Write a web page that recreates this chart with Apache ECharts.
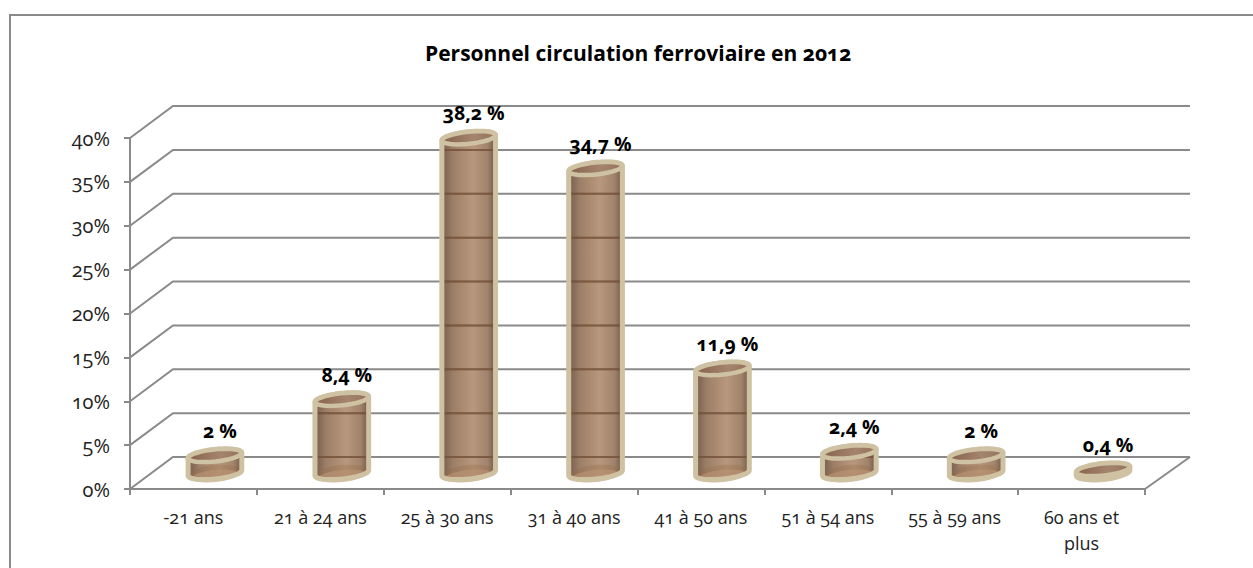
<!DOCTYPE html>
<html>
<head>
<meta charset="utf-8">
<title>Personnel circulation ferroviaire en 2012</title>
<script src="https://cdn.jsdelivr.net/npm/echarts@6/dist/echarts.min.js"></script>
<style>
  html, body { margin: 0; padding: 0; background: #fff; }
  #main { width: 1253px; height: 568px; }
  /* chiffres elzéviriens comme sur l'original */
  text { font-feature-settings: "onum" 1 !important; font-variant-numeric: oldstyle-nums !important; }
</style>
</head>
<body>
<div id="main"></div>
<script>
var titleText = 'Personnel circulation ferroviaire en 2012';
var categories = ['-21 ans', '21 à 24 ans', '25 à 30 ans', '31 à 40 ans', '41 à 50 ans', '51 à 54 ans', '55 à 59 ans', '60 ans et\nplus'];
var values = [2, 8.4, 38.2, 34.7, 11.9, 2.4, 2, 0.4];
var yTicks = [0, 5, 10, 15, 20, 25, 30, 35, 40];

var FONT = "'Open Sans', sans-serif";
var GREY = '#8a8a8a';
var RIM = '#cfc2a3';
// décalage de la perspective (mur du fond)
var DX = 43, DY = -32, DX_RIGHT = 45;
var RX = 27, RY = 6, TILT = -6 * Math.PI / 180;

function ellipsePoints(cx, cy, rx, ry, from, to) {
  var pts = [];
  for (var i = 0; i <= 40; i++) {
    var t = from + (to - from) * i / 40;
    var ex = rx * Math.cos(t), ey = ry * Math.sin(t);
    pts.push([
      cx + ex * Math.cos(TILT) - ey * Math.sin(TILT),
      cy + ex * Math.sin(TILT) + ey * Math.cos(TILT)
    ]);
  }
  return pts;
}

function hGradient(stops) {
  return new echarts.graphic.LinearGradient(0, 0, 1, 0, stops);
}

// lignes du fond : oblique puis horizontale
function renderWall(params, api) {
  var rect = params.coordSys;
  var y = api.coord([0, api.value(0)])[1];
  return {
    type: 'polyline',
    shape: { points: [[rect.x, y], [rect.x + DX, y + DY], [rect.x + rect.width + DX_RIGHT, y + DY]] },
    style: { fill: null, stroke: GREY, lineWidth: 2 },
    silent: true
  };
}

function renderFloorEdge(params, api) {
  var rect = params.coordSys;
  var y = api.coord([0, 0])[1];
  return {
    type: 'line',
    shape: { x1: rect.x + rect.width, y1: y, x2: rect.x + rect.width + DX_RIGHT, y2: y + DY },
    style: { stroke: GREY, lineWidth: 2 },
    silent: true
  };
}

function renderCylinder(params, api) {
  var i = api.value(0), v = api.value(1);
  var base = api.coord([i, 0]);
  var top = api.coord([i, v]);
  var cx = base[0] + DX / 2;
  var by = base[1] + DY / 2;
  var ty = top[1] + DY / 2;

  var body = ellipsePoints(cx, ty, RX, RY, Math.PI, 2 * Math.PI)
    .concat(ellipsePoints(cx, by, RX, RY, 0, Math.PI));

  var children = [
    {
      type: 'polygon',
      shape: { points: body },
      style: {
        fill: hGradient([
          { offset: 0, color: 'rgba(60,20,0,0.66)' },
          { offset: 0.08, color: 'rgba(70,28,0,0.66)' },
          { offset: 0.2, color: 'rgba(105,60,25,0.66)' },
          { offset: 0.58, color: 'rgba(148,98,58,0.66)' },
          { offset: 0.85, color: 'rgba(112,68,32,0.66)' },
          { offset: 0.94, color: 'rgba(70,28,0,0.66)' },
          { offset: 1, color: 'rgba(60,20,0,0.66)' }
        ])
      }
    },
    {
      type: 'polygon',
      shape: { points: ellipsePoints(cx, by, RX - 2, RY + 2, 0, 2 * Math.PI) },
      style: { fill: 'rgba(150,105,65,0.3)' }
    },
    {
      type: 'polygon',
      shape: { points: ellipsePoints(cx, by + 3, RX - 3, RY, 0, 2 * Math.PI) },
      style: { fill: 'rgba(188,148,118,0.6)' }
    }
  ];

  // les lignes du fond se voient à travers le cylindre
  yTicks.forEach(function (t) {
    var wallY = api.coord([0, t])[1] + DY;
    if (wallY > ty && wallY < by) {
      children.push({
        type: 'line',
        shape: { x1: cx - RX, y1: wallY, x2: cx + RX, y2: wallY },
        style: { stroke: 'rgba(125,90,65,0.8)', lineWidth: 2 }
      });
    }
  });

  children.push(
    {
      type: 'polyline',
      shape: { points: body.concat([body[0]]) },
      style: { fill: null, stroke: RIM, lineWidth: 5, lineJoin: 'round' }
    },
    {
      type: 'polygon',
      shape: { points: ellipsePoints(cx, ty, RX, RY, 0, 2 * Math.PI) },
      style: {
        fill: hGradient([
          { offset: 0, color: '#86634b' },
          { offset: 0.6, color: '#a5846d' },
          { offset: 1, color: '#94735d' }
        ]),
        stroke: RIM,
        lineWidth: 4.5
      }
    },
    {
      type: 'text',
      style: {
        x: cx + 5,
        y: ty - 25,
        text: String(v).replace('.', ',') + ' %',
        fill: '#000',
        font: "bold 19.5px " + FONT,
        align: 'center',
        verticalAlign: 'middle'
      }
    }
  );

  return { type: 'group', children: children };
}

var chart = echarts.init(document.getElementById('main'), null, { renderer: 'svg' });

chart.setOption({
  animation: false,
  backgroundColor: '#fff',
  title: {
    text: titleText,
    left: 425,
    top: 42,
    padding: 0,
    textStyle: { fontFamily: FONT, fontSize: 21, fontWeight: 'bold', color: '#000' }
  },
  graphic: [{
    type: 'polyline',
    shape: { points: [[10, 568], [10, 15], [1253, 15]] },
    style: { fill: null, stroke: GREY, lineWidth: 2 },
    silent: true
  }],
  grid: { left: 130, right: 108, top: 138, height: 351 },
  xAxis: {
    type: 'category',
    data: categories,
    axisLine: { lineStyle: { color: GREY, width: 2 } },
    axisTick: { show: true, length: 6, lineStyle: { color: GREY, width: 2 } },
    axisLabel: { color: '#222', fontFamily: FONT, fontSize: 18, margin: 15, lineHeight: 26, interval: 0 }
  },
  yAxis: {
    type: 'value',
    min: 0,
    max: 40,
    interval: 5,
    splitLine: { show: false },
    axisLine: { show: true, lineStyle: { color: GREY, width: 2 } },
    axisTick: { show: true, length: 6, lineStyle: { color: GREY, width: 2 } },
    axisLabel: { color: '#222', fontFamily: FONT, fontSize: 20, margin: 20, padding: [4, 0, 0, 0], formatter: '{value}%' }
  },
  series: [
    { type: 'custom', z: 1, silent: true, renderItem: renderWall, data: yTicks.map(function (t) { return [t]; }), encode: { y: 0 } },
    { type: 'custom', z: 1, silent: true, renderItem: renderFloorEdge, data: [[0]] },
    { type: 'custom', z: 3, silent: true, renderItem: renderCylinder, data: values.map(function (v, i) { return [i, v]; }), encode: { x: 0, y: 1 } }
  ]
});
</script>
</body>
</html>
